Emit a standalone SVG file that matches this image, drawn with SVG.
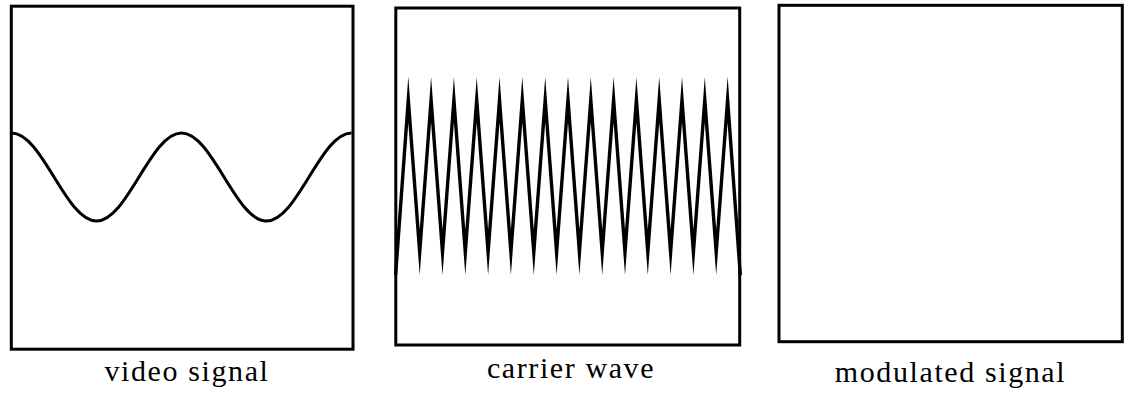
<svg xmlns="http://www.w3.org/2000/svg" width="1129" height="394" viewBox="0 0 1129 394">
  <style>
    .frame { fill: none; stroke: #000; stroke-width: 3; }
    .wave { fill: none; stroke: #000; stroke-width: 3; stroke-linecap: butt; }
    .zig { fill: none; stroke: #000; stroke-width: 3.4; stroke-linejoin: miter; stroke-miterlimit: 40; }
    .label { font-family: "Liberation Serif", "Times New Roman", serif; font-size: 30px; letter-spacing: 1.6px; fill: #000; text-anchor: middle; }
  </style>
  <rect width="1129" height="394" fill="#fff"/>
  <g id="video-signal">
    <path class="wave" d="M11.5,133 C42.5,133 65.5,221 96.5,221 S150.5,133 181.5,133 S235.5,221 266.5,221 S320.5,133 351.5,133"/>
    <rect class="frame" x="11.3" y="6.2" width="341.7" height="343"/>
    <text class="label" x="187" y="381">video signal</text>
  </g>
  <g id="carrier-wave">
    <polyline class="zig" points="395.6,275 408.3,99.7 419.7,252.3 431.1,99.7 442.5,252.3 453.9,99.7 465.3,252.3 476.7,99.7 488.1,252.3 499.5,99.7 510.9,252.3 522.3,99.7 533.8,252.3 545.2,99.7 556.6,252.3 568.0,99.7 579.4,252.3 590.8,99.7 602.2,252.3 613.6,99.7 625.0,252.3 636.4,99.7 647.8,252.3 659.2,99.7 670.6,252.3 682.0,99.7 693.4,252.3 704.8,99.7 716.2,252.3 727.6,99.7 740.3,275"/>
    <rect class="frame" x="395.8" y="8" width="343.9" height="337"/>
    <text class="label" x="571" y="378">carrier wave</text>
  </g>
  <g id="modulated-signal">
    <rect class="frame" x="779" y="5.3" width="343.3" height="336.4"/>
    <text class="label" x="950.5" y="381.5">modulated signal</text>
  </g>
  <g id="connectors"></g>
</svg>
